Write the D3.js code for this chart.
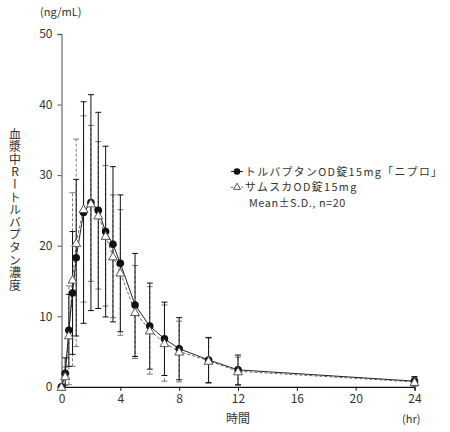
<!DOCTYPE html>
<html>
<head>
<meta charset="utf-8">
<script src="https://cdn.jsdelivr.net/npm/d3@7"></script>
<style>
  body { margin: 0; background: #fff; }
  text { font-family: "Noto Sans CJK JP", "Noto Sans", sans-serif; fill: #333; }
</style>
</head>
<body>
<div id="chart"></div>
<script>
// time points (hr)
const times = [0, 0.25, 0.5, 0.75, 1, 1.5, 2, 2.5, 3, 3.5, 4, 5, 6, 7, 8, 10, 12, 24];

// トルバプタンOD錠15mg「ニプロ」
const nipuroMean = [0, 1.9, 8.0, 13.3, 18.3, 24.7, 26.1, 25.0, 22.0, 20.2, 17.5, 11.6, 8.6, 6.8, 5.4, 3.8, 2.4, 0.8];
const nipuroSD   = [0, 2.2, 5.1, 8.7, 11.1, 15.7, 15.3, 13.9, 12.1, 11.0, 9.7, 7.3, 6.1, 5.2, 4.4, 3.2, 2.1, 0.65];

// サムスカOD錠15mg
const samscaMean = [0, 1.5, 7.3, 15.2, 20.4, 25.2, 26.0, 24.3, 21.4, 18.5, 16.2, 10.6, 8.0, 6.2, 5.0, 3.7, 2.2, 0.7];
const samscaSD   = [0, 1.3, 7.0, 12.3, 14.7, 13.2, 11.05, 10.45, 9.95, 8.7, 8.9, 6.6, 6.2, 5.4, 4.3, 3.2, 2.0, 0.6];

const xTicks = [0, 4, 8, 12, 16, 20, 24];
const yTicks = [0, 10, 20, 30, 40, 50];

let width = 450, height = 432;
let plotLeft = 61.5, plotRight = 414.5, plotTop = 34, plotBottom = 386.8;

let svg = d3.select("#chart").append("svg")
  .attr("width", width)
  .attr("height", height);

let x = d3.scaleLinear().domain([0, 24]).range([plotLeft, plotRight]);
let y = d3.scaleLinear().domain([0, 50]).range([plotBottom, plotTop]);

/* axes */
let yAxis = svg.append("g")
  .attr("transform", `translate(${plotLeft},0)`)
  .call(d3.axisLeft(y).tickValues(yTicks).tickSize(4).tickPadding(5));
yAxis.select(".domain").attr("stroke", "#888").attr("stroke-width", 1.5);
yAxis.selectAll(".tick line").attr("stroke", "#555");
yAxis.selectAll(".tick text").style("font-size", "12px").attr("fill", "#333");

let xAxis = svg.append("g")
  .attr("transform", `translate(0,${plotBottom})`)
  .call(d3.axisBottom(x).tickValues(xTicks).tickSize(4).tickPadding(4));
xAxis.select(".domain").attr("stroke", "#111").attr("stroke-width", 1.2);
xAxis.selectAll(".tick line").attr("stroke", "#111");
xAxis.selectAll(".tick text").style("font-size", "12px").attr("fill", "#333");

svg.append("text").attr("x", 40).attr("y", 16).style("font-size", "11px").text("(ng/mL)");
svg.append("text").attr("x", x(12)).attr("y", 423).attr("text-anchor", "middle").style("font-size", "12px").text("時間");
svg.append("text").attr("x", 402).attr("y", 423).style("font-size", "11px").text("(hr)");

svg.append("text")
  .attr("transform", "translate(15,128)")
  .style("writing-mode", "vertical-rl")
  .style("text-orientation", "upright")
  .style("font-size", "12px")
  .style("letter-spacing", "0.6px")
  .text("血漿中Rートルバプタン濃度");

/* series */
let nipuro = times.map((t, i) => ({t: t, m: nipuroMean[i], sd: nipuroSD[i]}));
let samsca = times.map((t, i) => ({t: t, m: samscaMean[i], sd: samscaSD[i]}));

let capW = 3;

function errorBars(data, color, dash) {
  let g = svg.append("g").attr("stroke", color).attr("stroke-width", 1).attr("fill", "none");
  data.filter(d => d.sd > 0).forEach(d => {
    let lo = Math.max(0, d.m - d.sd), hi = d.m + d.sd;
    g.append("line").attr("x1", x(d.t)).attr("x2", x(d.t)).attr("y1", y(lo)).attr("y2", y(hi))
      .attr("stroke-dasharray", dash);
    g.append("line").attr("x1", x(d.t) - capW).attr("x2", x(d.t) + capW).attr("y1", y(hi)).attr("y2", y(hi));
    if (d.m - d.sd > 0) {
      g.append("line").attr("x1", x(d.t) - capW).attr("x2", x(d.t) + capW).attr("y1", y(lo)).attr("y2", y(lo));
    }
  });
}

errorBars(samsca, "#777", "3,2");
errorBars(nipuro, "#111", null);

let line = d3.line().x(d => x(d.t)).y(d => y(d.m));

svg.append("path").datum(samsca).attr("d", line)
  .attr("fill", "none").attr("stroke", "#666").attr("stroke-width", 1).attr("stroke-dasharray", "3,2");
svg.append("path").datum(nipuro).attr("d", line)
  .attr("fill", "none").attr("stroke", "#222").attr("stroke-width", 1);

let tri = d3.symbol().type(d3.symbolTriangle).size(34);

svg.append("g").selectAll("circle").data(nipuro).enter()
  .append("circle")
  .attr("cx", d => x(d.t)).attr("cy", d => y(d.m)).attr("r", 3.8)
  .attr("fill", "#111");

svg.append("g").selectAll("path").data(samsca).enter()
  .append("path")
  .attr("d", tri)
  .attr("transform", d => `translate(${x(d.t)},${y(d.m) + 1})`)
  .attr("fill", "#fff").attr("stroke", "#555").attr("stroke-width", 1);

/* legend */
let legend = svg.append("g").style("font-size", "10.8px").style("letter-spacing", "1.4px");
legend.append("line").attr("x1", 231).attr("x2", 243).attr("y1", 171.5).attr("y2", 171.5).attr("stroke", "#222");
legend.append("circle").attr("cx", 237).attr("cy", 171.5).attr("r", 3.3).attr("fill", "#111");
legend.append("text").attr("x", 245).attr("y", 175.5).text("トルバプタンOD錠15mg「ニプロ」");

legend.append("line").attr("x1", 231).attr("x2", 243).attr("y1", 187.3).attr("y2", 187.3)
  .attr("stroke", "#666").attr("stroke-dasharray", "2,1.5");
legend.append("path").attr("d", d3.symbol().type(d3.symbolTriangle).size(22))
  .attr("transform", "translate(237,187.3)").attr("fill", "#fff").attr("stroke", "#555");
legend.append("text").attr("x", 245).attr("y", 191.3).text("サムスカOD錠15mg");

legend.append("text").attr("x", 249).attr("y", 207.1).style("letter-spacing", "0.6px").text("Mean±S.D., n=20");
</script>
</body>
</html>
